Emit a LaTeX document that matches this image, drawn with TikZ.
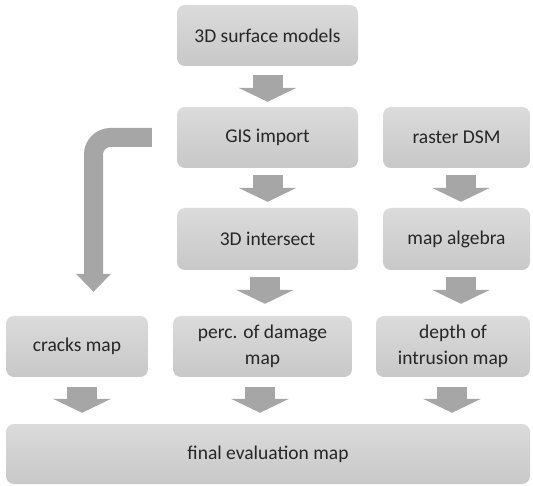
\documentclass[tikz,border=0pt]{standalone}
\usepackage{fontspec}
\setmainfont{Carlito}
\usepackage{tikz}
\usetikzlibrary{calc,arrows.meta}
\usepackage{xcolor}
\definecolor{boxtop}{RGB}{219,219,219}
\definecolor{boxbot}{RGB}{200,200,200}
\definecolor{flowgray}{RGB}{166,166,166}
\definecolor{txtgray}{RGB}{38,38,38}

\begin{document}
\begin{tikzpicture}[x=1pt,y=-1pt,
  box/.style={rounded corners=8pt,top color=boxtop,bottom color=boxbot,
    draw=none,text=txtgray,align=center,inner sep=0pt,
    font=\fontsize{19.5}{26}\selectfont},
  flow/.style={draw=flowgray,line width=30pt,shorten <=7pt,shorten >=6pt,
    -{Triangle[width=58pt,length=14pt,line width=0pt]}},
  bendflow/.style={draw=flowgray,line width=19pt,rounded corners=17pt,
    -{Triangle[width=35pt,length=18pt,line width=0pt]}}]
  \path[use as bounding box] (0,0) rectangle (533,486);
  % boxes
  \node[box,minimum width=181pt,minimum height=61pt] (surf) at (267.5,35.5) {3D surface models};
  \node[box,minimum width=181pt,minimum height=61pt] (gis) at (267.5,137.5) {GIS import};
  \node[box,minimum width=147pt,minimum height=61pt] (raster) at (456.5,137.5) {raster DSM};
  \node[box,minimum width=181pt,minimum height=62pt] (inters) at (267.5,239) {3D intersect};
  \node[box,minimum width=147pt,minimum height=62pt] (algebra) at (456.5,239) {map algebra};
  \node[box,minimum width=142pt,minimum height=61pt] (cracks) at (77,346.5) {cracks map};
  \node[box,minimum width=179pt,minimum height=61pt] (damage) at (262.5,346.5) {perc. of damage\\map};
  \node[box,minimum width=154pt,minimum height=61pt] (intrusion) at (453,346.5) {depth of\\intrusion map};
  \node[box,minimum width=524pt,minimum height=60pt] (final) at (268,454) {final evaluation map};
  % arrows
  \draw[flow,shorten <=9pt,shorten >=5pt] (surf) -- (gis);
  \draw[flow] (gis) -- (inters);
  \draw[flow,shorten >=12pt] ([xshift=-2.5pt]inters.south) -- ([xshift=-2.5pt]inters.south |- damage.north);
  \draw[flow] ([xshift=4.5pt]raster.south) -- ([xshift=4.5pt]raster.south |- algebra.north);
  \draw[flow,shorten >=12pt] ([xshift=4.5pt]algebra.south) -- ([xshift=4.5pt]algebra.south |- intrusion.north);
  \draw[flow,shorten <=10pt,shorten >=11pt] ([xshift=5pt]cracks.south) -- ([xshift=5pt]cracks.south |- final.north);
  \draw[flow,shorten <=10pt,shorten >=11pt] ([xshift=-2.5pt]damage.south) -- ([xshift=-2.5pt]damage.south |- final.north);
  \draw[flow,shorten <=10pt,shorten >=11pt] ([xshift=-1pt]intrusion.south) -- ([xshift=-1pt]intrusion.south |- final.north);
  % side branch to the cracks map
  \coordinate (crackin) at ([xshift=16.5pt]cracks.north);
  \draw[bendflow,shorten <=25pt,shorten >=24pt] (gis.west) -| (crackin);
\end{tikzpicture}
\end{document}
